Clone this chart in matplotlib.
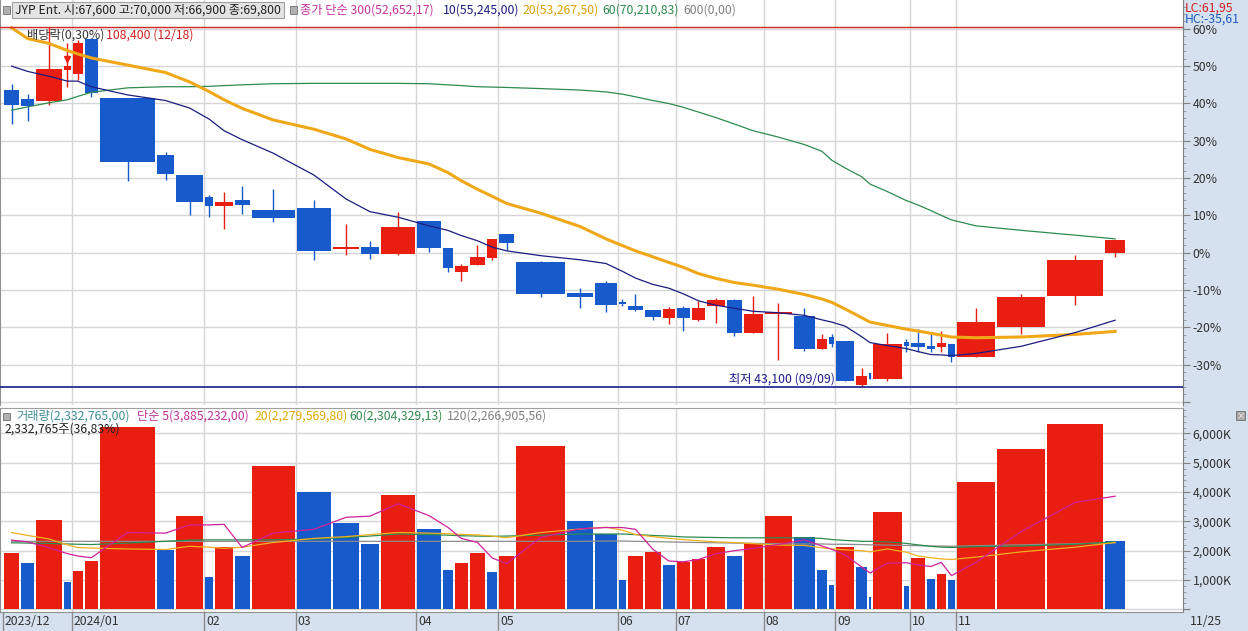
import matplotlib
matplotlib.use('Agg')
import matplotlib.pyplot as plt
import numpy as np
from matplotlib.patches import Rectangle
from matplotlib.ticker import MultipleLocator

plt.rcParams['font.family'] = ['Noto Sans CJK KR', 'DejaVu Sans']

# 주봉 데이터 (기준가 대비 %), 거래량 (백만주)
opens = [43.7, 41.1, 40.8, 49.0, 48.0, 57.3, 41.5, 26.2, 20.8, 15.0, 12.5, 14.0, 11.5,
         12.1, 0.95, 1.66, -0.36, 8.5, 1.25, -5.3, -3.2, -1.4, 4.9, -2.4, -10.7, -8.2,
         -13.1, -14.3, -15.4, -17.4, -14.9, -18.1, -14.2, -12.7, -21.6, -16.5, -16.9,
         -25.7, -22.6, -23.6, -35.6, -32.2, -33.8, -23.9, -24.2, -25.1, -25.4, -24.4,
         -27.9, -19.8, -11.5, -0.06]
highs = [45.2, 42.6, 60.4, 56.3, 57.1, 57.5, 41.6, 26.9, 20.8, 15.6, 16.3, 17.9, 17.0,
         14.0, 7.7, 3.2, 10.8, 8.5, 1.25, -2.9, 2.1, 3.7, 4.9, -2.1, -9.5, -7.5,
         -12.3, -11.2, -15.4, -14.6, -14.3, -13.0, -12.2, -12.3, -11.7, -13.4, -14.7,
         -21.8, -21.8, -23.6, -31.0, -32.2, -21.4, -23.1, -20.4, -21.9, -21.1, -24.4,
         -14.9, -11.2, -0.6, 3.4]
lows = [34.4, 35.3, 39.6, 44.5, 46.2, 41.8, 19.3, 19.5, 10.1, 9.6, 6.4, 10.5, 8.2,
        -1.9, -0.6, -1.6, -0.6, 0.2, -5.1, -7.5, -3.2, -2.0, 0.85, -12.0, -14.8, -15.9,
        -14.2, -15.6, -18.1, -19.1, -20.9, -18.3, -18.8, -22.4, -21.6, -28.7, -26.4,
        -25.7, -25.2, -34.3, -36.0, -33.8, -34.3, -26.7, -26.5, -26.5, -26.5, -29.2,
        -27.9, -21.8, -14.0, -1.2]
closes = [39.6, 39.3, 49.2, 50.1, 56.1, 42.8, 24.4, 21.2, 13.7, 12.6, 13.5, 12.8, 9.2,
          0.35, 1.66, -0.36, 6.9, 1.25, -4.1, -3.5, -1.2, 3.7, 2.5, -11.2, -11.8, -13.9,
          -13.8, -15.3, -17.2, -15.2, -17.6, -14.9, -12.7, -21.4, -16.5, -15.8, -25.7,
          -23.1, -24.4, -34.3, -33.0, -33.8, -24.4, -24.9, -25.2, -25.7, -24.3, -27.9,
          -18.6, -11.8, -2.0, 3.4]
volumes = [1.93, 1.59, 3.05, 0.92, 1.31, 1.66, 6.23, 2.02, 3.19, 1.10, 2.12, 1.82, 4.89,
           4.01, 2.96, 2.24, 3.91, 2.75, 1.35, 1.59, 1.93, 1.29, 1.82, 5.59, 3.02, 2.57,
           1.01, 1.82, 1.95, 1.50, 1.63, 1.72, 2.12, 1.82, 2.27, 3.20, 2.47, 1.33, 0.82,
           2.11, 1.44, 0.41, 3.33, 0.79, 1.76, 1.05, 1.22, 0.99, 4.34, 5.46, 6.33, 2.34]

# 가격 이동평균 (10, 20, 60)
ma10 = [50.0, 48.6, 47.3, 46.0, 46.0, 44.5, 42.3, 40.8, 38.8, 35.8, 32.7, 30.3, 26.7,
        20.8, 14.4, 11.0, 9.5, 7.2, 6.0, 4.6, 3.2, 1.5, 0.5, -0.8, -1.9, -2.9, -5.0,
        -6.8, -8.5, -9.5, -11.0, -12.9, -14.1, -14.9, -15.7, -16.1, -16.8, -18.0, -18.6,
        -19.7, -22.5, -24.1, -24.9, -25.7, -26.5, -27.3, -27.4, -27.6, -27.0, -25.1,
        -21.4, -18.1]
ma20 = [60.3, 57.4, 56.1, 54.2, 53.3, 52.2, 50.3, 48.3, 45.8, 43.2, 41.0, 38.7, 35.6,
        33.1, 30.5, 27.7, 25.5, 23.8, 21.5, 19.3, 17.0, 15.1, 13.2, 10.6, 7.0, 3.7, 1.9,
        0.5, -1.1, -2.6, -3.9, -5.6, -6.9, -8.0, -8.7, -9.8, -11.2, -12.4, -13.3, -15.1,
        -17.4, -18.6, -19.5, -20.5, -21.0, -21.6, -22.1, -22.6, -22.8, -22.6, -21.9, -21.1]
ma60 = [38.2, 39.1, 40.2, 41.0, 41.9, 43.0, 44.2, 44.5, 44.5, 44.6, 44.8, 45.0, 45.3,
        45.4, 45.4, 45.4, 45.4, 45.3, 45.0, 44.8, 44.5, 44.4, 44.3, 44.0, 43.6, 43.1,
        42.5, 41.8, 40.8, 40.0, 39.0, 37.7, 36.2, 34.5, 32.7, 31.0, 29.0, 27.2, 24.8,
        22.7, 20.4, 18.4, 16.4, 14.0, 12.8, 11.3, 10.0, 8.8, 7.2, 6.0, 4.7, 3.7]

# 거래량 이동평균 (5, 20, 60, 120)
vma5 = [2.36, 2.30, 2.10, 1.90, 1.82, 1.76, 2.62, 2.60, 2.88, 2.88, 2.90, 2.11, 2.60,
        2.73, 3.14, 3.18, 3.60, 3.20, 2.80, 2.42, 2.28, 1.75, 1.56, 2.45, 2.75, 2.79,
        2.79, 2.73, 2.05, 1.65, 1.62, 1.70, 1.90, 2.00, 2.08, 2.21, 2.37, 2.16, 2.05,
        1.85, 1.45, 1.24, 1.57, 1.59, 1.52, 1.46, 1.60, 1.15, 1.60, 2.65, 3.65, 3.86]
vma20 = [2.62, 2.52, 2.40, 2.20, 2.11, 2.09, 2.06, 2.04, 2.15, 2.12, 2.08, 2.12, 2.28,
         2.42, 2.48, 2.55, 2.62, 2.60, 2.58, 2.56, 2.54, 2.50, 2.44, 2.62, 2.74, 2.80,
         2.70, 2.55, 2.48, 2.42, 2.38, 2.34, 2.30, 2.28, 2.24, 2.19, 2.18, 2.10, 2.06,
         2.03, 2.00, 1.96, 2.06, 1.95, 1.82, 1.76, 1.72, 1.70, 1.78, 1.96, 2.12, 2.28]
vma60 = [2.27, 2.26, 2.25, 2.23, 2.22, 2.21, 2.26, 2.32, 2.36, 2.37, 2.37, 2.37, 2.37,
         2.40, 2.45, 2.50, 2.57, 2.55, 2.53, 2.51, 2.50, 2.49, 2.50, 2.53, 2.57, 2.57,
         2.57, 2.55, 2.52, 2.50, 2.47, 2.46, 2.45, 2.44, 2.44, 2.44, 2.44, 2.42, 2.38,
         2.35, 2.32, 2.32, 2.30, 2.25, 2.20, 2.15, 2.12, 2.11, 2.14, 2.16, 2.22, 2.30]
vma120 = [2.32, 2.32, 2.32, 2.32, 2.32, 2.32, 2.32, 2.32, 2.32, 2.32, 2.32, 2.32, 2.32,
          2.32, 2.32, 2.32, 2.32, 2.32, 2.32, 2.32, 2.32, 2.32, 2.32, 2.32, 2.32, 2.33,
          2.33, 2.32, 2.31, 2.30, 2.29, 2.28, 2.27, 2.26, 2.25, 2.24, 2.23, 2.23, 2.22,
          2.22, 2.21, 2.20, 2.19, 2.18, 2.17, 2.16, 2.16, 2.15, 2.17, 2.20, 2.24, 2.27]

month_idx = [0, 4, 9, 13, 17, 22, 26, 30, 35, 39, 44, 48]
month_labels = ['2023/12', '2024/01', '02', '03', '04', '05', '06', '07', '08', '09', '10', '11']

RED = '#E81E10'
BLUE = '#175ACB'
GRID = '#D6D6D6'
FS = 8.8

W, H = 1248, 631
PX = 9.2     # 픽셀 / 백만주
X0 = 2.7

def fx(px):
    return px / W

def fy(py):
    return 1 - py / H

fig = plt.figure(figsize=(W / 100, H / 100), dpi=100)
fig.patch.set_facecolor('white')

# 오른쪽 축 영역, 아래 날짜 영역 배경
fig.patches.append(Rectangle((fx(1183), 0), 1 - fx(1183), 1, transform=fig.transFigure,
                             facecolor='#D5E1EF', edgecolor='none', zorder=-5))
fig.patches.append(Rectangle((0, 0), 1, fy(611.5), transform=fig.transFigure,
                             facecolor='#D5E1EF', edgecolor='none', zorder=-5))

vols = np.array(volumes)
left = np.concatenate([[0], np.cumsum(vols)[:-1]])
center = left + vols / 2
gap = 0.22
xlim = (-X0 / PX, (1183 - X0) / PX)

# ---------- 가격 패널 ----------
ax = fig.add_axes([0, fy(405), fx(1183), 405 / H])
ax.set_facecolor('white')
ax.set_xlim(*xlim)
ax.set_ylim((252.7 - 405) / 3.73, 252.7 / 3.73)

for i in range(len(vols)):
    o, h, l, c = opens[i], highs[i], lows[i], closes[i]
    col = RED if c >= o else BLUE
    ax.vlines(center[i], l, h, color=col, lw=1, zorder=3)
    bot = min(o, c)
    ht = max(abs(c - o), 0.3)
    ax.add_patch(Rectangle((left[i] + gap / 2, bot), vols[i] - gap, ht,
                           facecolor=col, edgecolor='none', zorder=4))

ax.plot(center, ma60, color='#2E8B4F', lw=0.9, zorder=5)
ax.plot(center, ma20, color='#F0A818', lw=2.2, zorder=5)
ax.plot(center, ma10, color='#1C1C80', lw=0.9, zorder=5)

ax.axhline(60.4, color='#D02828', lw=1, zorder=6)
ax.axhline(-36.1, color='#1A1A8C', lw=1.2, zorder=6)

# 배당락 표시
ax.plot(center[3], 51.9, marker='v', color=RED, ms=5, zorder=7)

ax.set_yticks(range(-40, 70, 10))
ax.set_yticklabels([''] + ['%d%%' % v for v in range(-30, 70, 10)])
ax.yaxis.set_minor_locator(MultipleLocator(2))
ax.yaxis.tick_right()
ax.tick_params(axis='y', which='major', direction='out', length=5, color='#808080',
               labelsize=FS, labelcolor='#333333', pad=2)
ax.tick_params(axis='y', which='minor', direction='out', length=2.5, color='#909090')
ax.set_xticks([])
ax.grid(axis='y', color=GRID, lw=1, zorder=1)
for m in month_idx[1:]:
    ax.axvline(left[m], color=GRID, lw=1, zorder=1)
for s in ['top', 'bottom']:
    ax.spines[s].set_visible(False)
ax.spines['left'].set_color('#909090')
ax.spines['right'].set_color('#808080')

ax.text(left[39] - 0.1, -33.9, '최저 43,100 (09/09)', color='#1A1A8C', fontsize=FS,
        ha='right', va='center', zorder=8)

# ---------- 거래량 패널 ----------
av = fig.add_axes([0, fy(611.5), fx(1183), (611.5 - 408) / H])
av.set_facecolor('white')
av.set_xlim(*xlim)
av.set_ylim(-(611.5 - 609.3) / 29.3, (609.3 - 408) / 29.3)
vcols = [RED] + [RED if vols[i] > vols[i - 1] else BLUE for i in range(1, len(vols))]
av.bar(left + gap / 2, vols, width=vols - gap, align='edge', color=vcols, zorder=3)
av.plot(center, vma120, color='#8C8C8C', lw=0.9, zorder=4)
av.plot(center, vma60, color='#2E8B4F', lw=0.9, zorder=4)
av.plot(center, vma20, color='#F0B020', lw=0.9, zorder=4)
av.plot(center, vma5, color='#D0209A', lw=0.9, zorder=5)

av.set_yticks(range(0, 7))
av.set_yticklabels([''] + ['%d,000K' % v for v in range(1, 7)])
av.yaxis.set_minor_locator(MultipleLocator(0.2))
av.yaxis.tick_right()
av.tick_params(axis='y', which='major', direction='out', length=5, color='#808080',
               labelsize=FS, labelcolor='#333333', pad=2)
av.tick_params(axis='y', which='minor', direction='out', length=2.5, color='#909090')
av.set_xticks([])
av.grid(axis='y', color=GRID, lw=1, zorder=1)
for m in month_idx[1:]:
    av.axvline(left[m], color=GRID, lw=1, zorder=1)
av.spines['top'].set_color('#A0A0A0')
av.spines['bottom'].set_color('#909090')
av.spines['left'].set_color('#909090')
av.spines['right'].set_color('#808080')

# ---------- 날짜 축 ----------
for m, lab in zip(month_idx, month_labels):
    xp = X0 + left[m] * PX
    fig.add_artist(plt.Line2D([fx(xp), fx(xp)], [0, fy(612)], color='#8A8A8A', lw=1))
    fig.text(fx(xp + 2), fy(621.5), lab, fontsize=FS, color='#333333', va='center')
fig.text(fx(1190), fy(621.5), '11/25', fontsize=FS, color='#333333', va='center')

# ---------- 상단 범례 ----------
def square(px, py):
    fig.patches.append(Rectangle((fx(px), fy(py + 3.5)), 7 / W, 7 / H, transform=fig.transFigure,
                                 facecolor='#B0B0B0', edgecolor='#707070', lw=0.6, zorder=10))

square(3, 10)
fig.patches.append(Rectangle((fx(12), fy(18)), 272 / W, 16 / H, transform=fig.transFigure,
                             facecolor='#E4E4E4', edgecolor='#A0A0A0', lw=0.8, zorder=10))
fig.text(fx(15), fy(10), 'JYP Ent. 시:67,600 고:70,000 저:66,900 종:69,800', fontsize=FS,
         color='#222222', va='center', zorder=11)
square(290, 10)
fig.text(fx(300), fy(10), '종가 단순 300(52,652,17)', fontsize=FS, color='#C8329B', va='center')
fig.text(fx(443), fy(10), '10(55,245,00)', fontsize=FS, color='#1C1C80', va='center')
fig.text(fx(523), fy(10), '20(53,267,50)', fontsize=FS, color='#E0A000', va='center')
fig.text(fx(602), fy(10), '60(70,210,83)', fontsize=FS, color='#2E8B4F', va='center')
fig.text(fx(683), fy(10), '600(0,00)', fontsize=FS, color='#808080', va='center')

fig.text(fx(27), fy(35), '배당락(0,30%)', fontsize=FS, color='#333333', va='center', zorder=11)
fig.text(fx(106), fy(35), '108,400 (12/18)', fontsize=FS, color='#D02020', va='center', zorder=12)

fig.text(fx(1185), fy(8), 'LC:61,95', fontsize=FS, color='#D02020', va='center', zorder=11)
fig.text(fx(1185), fy(19), 'HC:-35,61', fontsize=FS, color='#1E5CC0', va='center', zorder=11)

square(3, 416)
fig.text(fx(16), fy(416), '거래량(2,332,765,00)', fontsize=FS, color='#3C8C96', va='center')
fig.text(fx(137), fy(416), '단순 5(3,885,232,00)', fontsize=FS, color='#C0309A', va='center')
fig.text(fx(255), fy(416), '20(2,279,569,80)', fontsize=FS, color='#E0A800', va='center')
fig.text(fx(349), fy(416), '60(2,304,329,13)', fontsize=FS, color='#2E8B4F', va='center')
fig.text(fx(447), fy(416), '120(2,266,905,56)', fontsize=FS, color='#808080', va='center')
fig.text(fx(5), fy(429), '2,332,765주(36,83%)', fontsize=FS, color='#222222', va='center', zorder=11)

# 닫기 버튼
fig.patches.append(Rectangle((fx(1236), fy(420)), 9 / W, 9 / H, transform=fig.transFigure,
                             facecolor='#A8A8A8', edgecolor='#707070', lw=0.6, zorder=10))
fig.text(fx(1240.5), fy(415.5), '×', fontsize=6, color='white', ha='center', va='center', zorder=11)

fig.savefig('out.png', dpi=100)
